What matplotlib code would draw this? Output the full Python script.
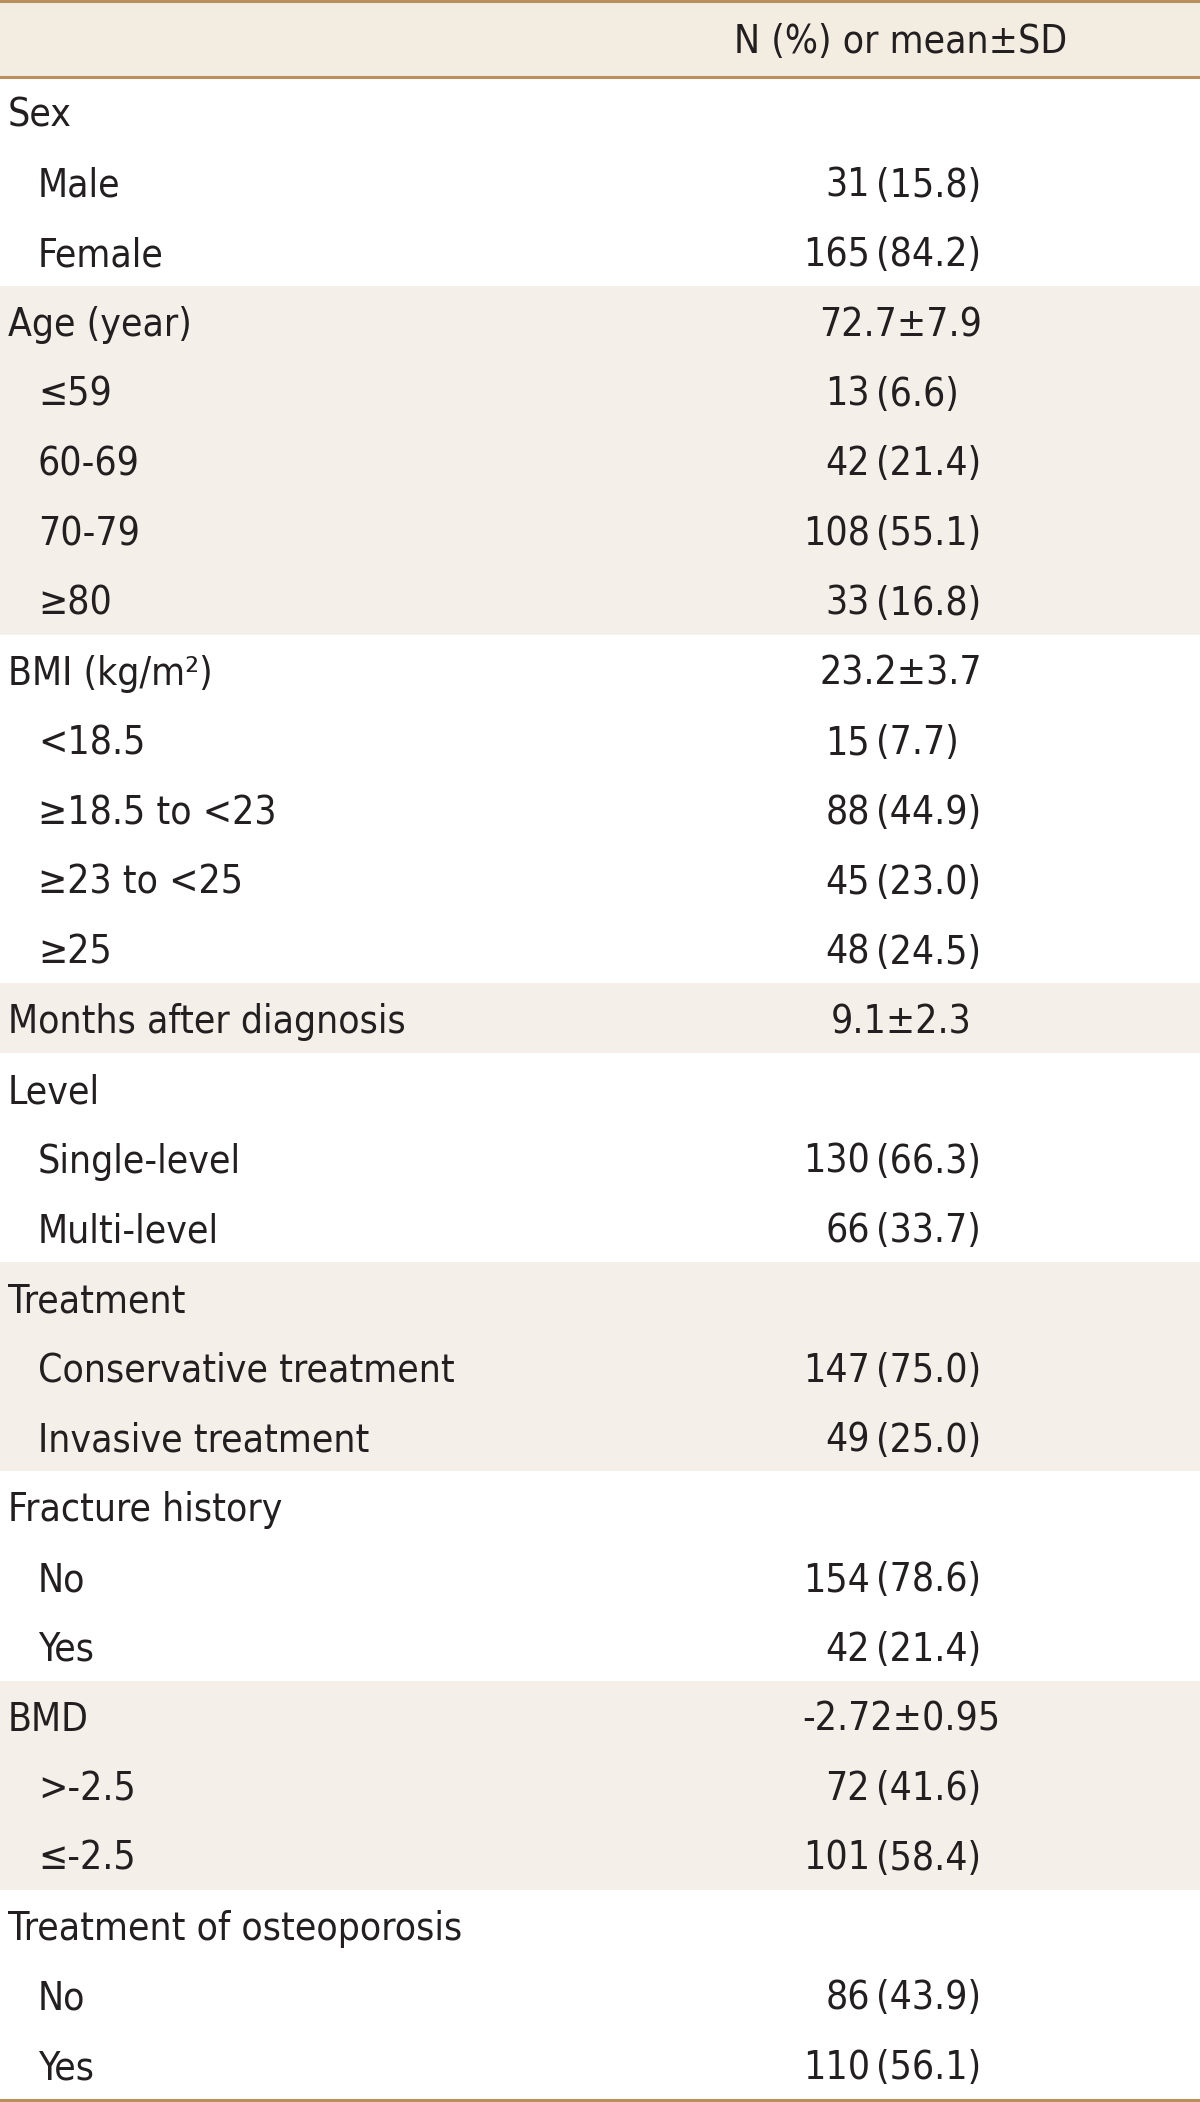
import matplotlib

matplotlib.use("Agg")
import matplotlib.pyplot as plt
from matplotlib.patches import Rectangle

# --- table content -------------------------------------------------------
header_value = "N (%) or mean\u00b1SD"

groups = [
    "Sex",
    "Age (year)",
    "BMI (kg/m\u00b2)",
    "Months after diagnosis",
    "Level",
    "Treatment",
    "Fracture history",
    "BMD",
    "Treatment of osteoporosis",
]
group_values = ["", "72.7\u00b17.9", "23.2\u00b13.7", "9.1\u00b12.3", "", "", "", "-2.72\u00b10.95", ""]

sub_labels = [
    ["Male", "Female"],
    ["\u226459", "60-69", "70-79", "\u226580"],
    ["<18.5", "\u226518.5 to <23", "\u226523 to <25", "\u226525"],
    [],
    ["Single-level", "Multi-level"],
    ["Conservative treatment", "Invasive treatment"],
    ["No", "Yes"],
    [">-2.5", "\u2264-2.5"],
    ["No", "Yes"],
]
sub_n = [
    [31, 165],
    [13, 42, 108, 33],
    [15, 88, 45, 48],
    [],
    [130, 66],
    [147, 49],
    [154, 42],
    [72, 101],
    [86, 110],
]
sub_pct = [
    [15.8, 84.2],
    [6.6, 21.4, 55.1, 16.8],
    [7.7, 44.9, 23.0, 24.5],
    [],
    [66.3, 33.7],
    [75.0, 25.0],
    [78.6, 21.4],
    [41.6, 58.4],
    [43.9, 56.1],
]

# --- style ---------------------------------------------------------------
W, H = 1200, 2102
HEADER_H = 77
ROW_H = (2099 - HEADER_H) / 29
SHADE = "#f4efe8"
HEADER_BG = "#f2ece1"
LINE = "#b98f5e"
TXT = "#231f20"
FONT = ["DejaVu Sans"]
STRETCH = "condensed"
FS = 28
DY = 4  # nudge text down a little, caps sit low in the reference rows

X_LABEL = 8
X_INDENT = 38
X_PAREN = 876
X_CENTER = 901

fig = plt.figure(figsize=(W / 100, H / 100), dpi=100)
ax = fig.add_axes((0, 0, 1, 1))
ax.set_xlim(0, W)
ax.set_ylim(H, 0)
ax.axis("off")

kw = dict(fontsize=FS, family=FONT, fontstretch=STRETCH, color=TXT, va="center")

# header
ax.add_patch(Rectangle((0, 0), W, HEADER_H, facecolor=HEADER_BG, edgecolor="none"))
ax.text(X_CENTER, HEADER_H / 2 + DY, header_value, ha="center", **kw)

row = 0
for gi, label in enumerate(groups):
    n_rows = 1 + len(sub_labels[gi])
    top = HEADER_H + row * ROW_H
    if gi % 2 == 1:
        ax.add_patch(Rectangle((0, top), W, n_rows * ROW_H, facecolor=SHADE, edgecolor="none"))
    yc = top + ROW_H / 2 + DY
    ax.text(X_LABEL, yc, label, ha="left", **kw)
    if group_values[gi]:
        ax.text(X_CENTER, yc, group_values[gi], ha="center", **kw)
    for k, sub in enumerate(sub_labels[gi]):
        yc = top + (k + 1.5) * ROW_H + DY
        ax.text(X_INDENT, yc, sub, ha="left", **kw)
        ax.text(X_PAREN - 6, yc, str(sub_n[gi][k]), ha="right", **kw)
        ax.text(X_PAREN, yc, f"({sub_pct[gi][k]:.1f})", ha="left", **kw)
    row += n_rows

# rules
for y in (1, HEADER_H, 2100):
    ax.axhline(y, color=LINE, linewidth=2.2)

fig.savefig("out.png", dpi=100)
